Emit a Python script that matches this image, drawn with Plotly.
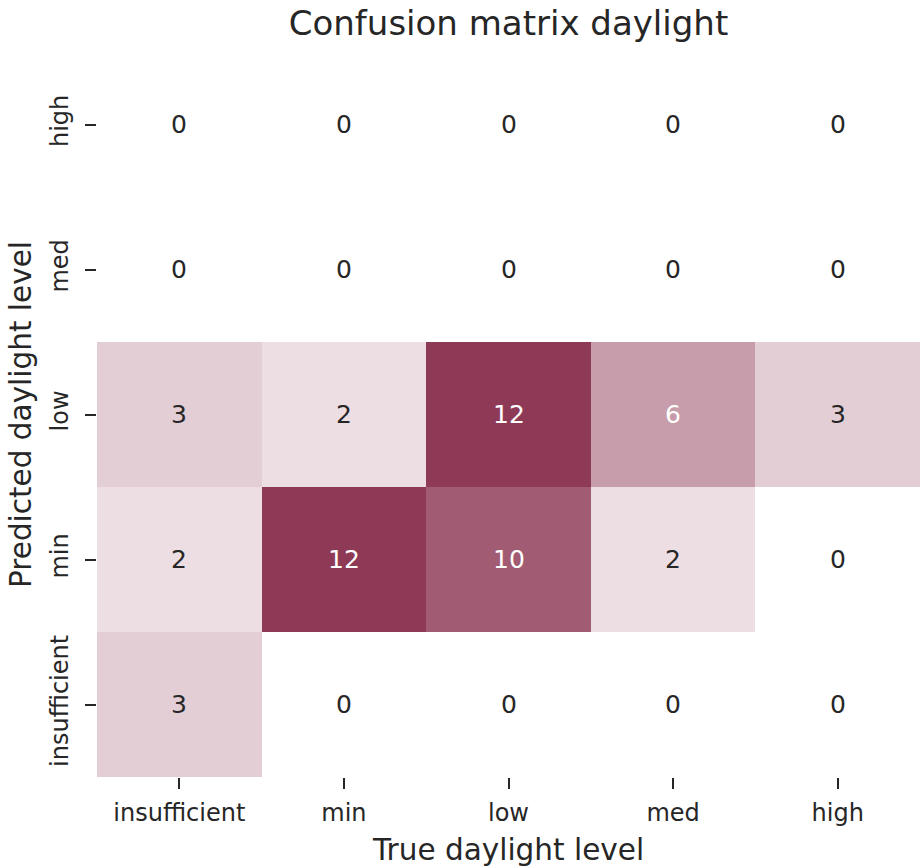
import plotly.graph_objects as go

# categories, bottom to top for y
levels = ["insufficient", "min", "low", "med", "high"]

# rows = predicted level (insufficient .. high), columns = true level
counts_insufficient = [3, 0, 0, 0, 0]
counts_min = [2, 12, 10, 2, 0]
counts_low = [3, 2, 12, 6, 3]
counts_med = [0, 0, 0, 0, 0]
counts_high = [0, 0, 0, 0, 0]

z = [counts_insufficient, counts_min, counts_low, counts_med, counts_high]
zmax = 12

fig = go.Figure()
fig.add_trace(go.Heatmap(
    z=z, x=levels, y=levels,
    zmin=0, zmax=zmax,
    colorscale=[[0, "#ffffff"], [1, "#8e3a56"]],
    showscale=False, xgap=0, ygap=0,
    hoverinfo="skip",
))

# cell labels, light text on dark cells
annotations = []
for i, row in enumerate(z):
    for j, v in enumerate(row):
        annotations.append(dict(
            x=levels[j], y=levels[i], text=str(v), showarrow=False,
            font=dict(size=25, color="#ffffff" if v >= zmax / 2 else "#262626"),
        ))

fig.update_layout(
    width=922, height=867,
    margin=dict(l=97, r=2, t=52, b=90),
    paper_bgcolor="white", plot_bgcolor="white",
    font=dict(family="DejaVu Sans", color="#262626"),
    title=dict(text="Confusion matrix daylight", x=0.5, xref="paper",
               y=1 - 23 / 867, yanchor="middle", font=dict(size=34, color="#262626")),
    annotations=annotations,
    xaxis=dict(title=dict(text="True daylight level", font=dict(size=29.5), standoff=14),
               ticks="outside", ticklen=11, tickwidth=2, tickcolor="#262626",
               tickfont=dict(size=24), ticklabelstandoff=3, showgrid=False,
               zeroline=False, showline=False, automargin=False),
    yaxis=dict(title=dict(text="Predicted daylight level", font=dict(size=29.5), standoff=6),
               ticks="outside", ticklen=11, tickwidth=2, tickcolor="#262626",
               tickfont=dict(size=24), ticklabelstandoff=7, tickangle=-90,
               showgrid=False, zeroline=False, showline=False, automargin=False),
)

# drop the default page margin so the figure sits at the window's corner
fig.write_html("out.html", config={"displayModeBar": False},
               post_script="document.body.style.margin='0';")
